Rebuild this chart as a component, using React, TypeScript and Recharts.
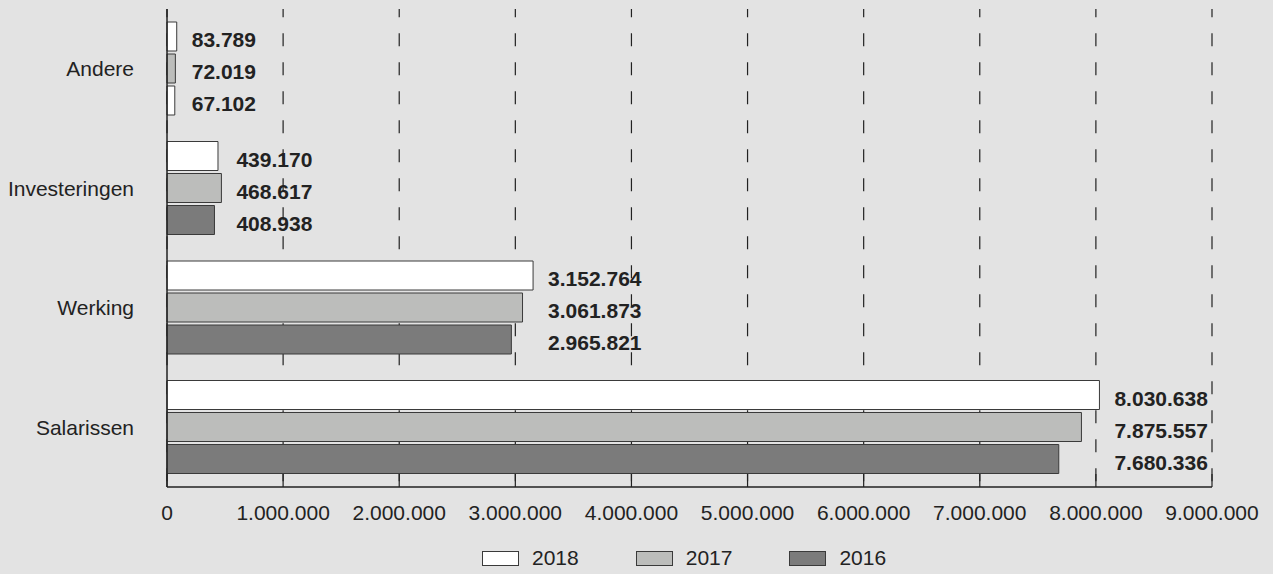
import React from "react";
import {
  BarChart,
  Bar,
  Cell,
  CartesianGrid,
  LabelList,
  Legend,
  XAxis,
  YAxis,
} from "recharts";

const categories = ["Andere", "Investeringen", "Werking", "Salarissen"];
const values2018 = [83789, 439170, 3152764, 8030638];
const values2017 = [72019, 468617, 3061873, 7875557];
const values2016 = [67102, 408938, 2965821, 7680336];
const xTicks = [0, 1000000, 2000000, 3000000, 4000000, 5000000, 6000000, 7000000, 8000000, 9000000];

const series = [
  { key: "y2018", name: "2018", fill: "#ffffff" },
  { key: "y2017", name: "2017", fill: "#bcbdbb" },
  { key: "y2016", name: "2016", fill: "#7b7b7b" },
];

const data = categories.map((c, i) => ({
  category: c,
  y2018: values2018[i],
  y2017: values2017[i],
  y2016: values2016[i],
}));

const groupMax = data.map((d) => Math.max(d.y2018, d.y2017, d.y2016));

const fmt = (v: number) => String(v).replace(/\B(?=(\d{3})+(?!\d))/g, ".");

const FONT = "'Liberation Sans', Arial, Helvetica, sans-serif";

const ValueLabel = (props: any) => {
  const { x, y, width, height, value, index } = props;
  // all labels of a group line up right of the longest bar
  const end = x + (width * groupMax[index]) / value;
  return (
    <text
      x={end + 15}
      y={y + height / 2 + 10.5}
      fontSize={21}
      fontWeight="bold"
      fill="#222"
      fontFamily={FONT}
    >
      {fmt(value)}
    </text>
  );
};

const XTick = (props: any) => {
  const { x, y, payload } = props;
  return (
    <g>
      <line x1={x} x2={x} y1={y} y2={y - 13} stroke="#222" strokeWidth={1.2} />
      <text x={x} y={y + 33} textAnchor="middle" fontSize={21} fill="#222" fontFamily={FONT}>
        {fmt(payload.value)}
      </text>
    </g>
  );
};

const LegendContent = () => (
  <div
    style={{
      height: 40,
      display: "flex",
      alignItems: "center",
      paddingTop: 8,
      boxSizing: "border-box",
      fontFamily: FONT,
      fontSize: 21,
      color: "#222",
    }}
  >
    {series.map((s) => (
      <div key={s.key} style={{ display: "flex", alignItems: "center", marginRight: 57 }}>
        <span
          style={{
            width: 35,
            height: 13,
            background: s.fill,
            border: "1px solid #3a3a3a",
            marginRight: 13,
            display: "inline-block",
          }}
        />
        <span>{s.name}</span>
      </div>
    ))}
  </div>
);

export default function App() {
  return (
    <div
      style={{
        position: "absolute",
        left: 0,
        top: 0,
        width: 1273,
        height: 574,
        background: "#e3e3e3",
      }}
    >
      <BarChart
        width={1273}
        height={574}
        data={data}
        layout="vertical"
        margin={{ top: 9, right: 61, bottom: 0, left: 0 }}
        barCategoryGap={13}
        barGap={3}
      >
        <CartesianGrid
          horizontal={false}
          stroke="#222"
          strokeWidth={1.2}
          strokeDasharray="13 16"
          strokeDashoffset={4.7}
        />
        <XAxis
          type="number"
          domain={[0, 9000000]}
          ticks={xTicks}
          tick={<XTick />}
          tickLine={false}
          tickSize={0}
          tickMargin={0}
          height={47}
          axisLine={{ stroke: "#222", strokeWidth: 1.5 }}
          interval={0}
        />
        <YAxis
          type="category"
          dataKey="category"
          width={167}
          tickLine={false}
          tickSize={0}
          tickMargin={33}
          axisLine={{ stroke: "#222", strokeWidth: 1.5 }}
          tick={{ fontSize: 21, fill: "#222", fontFamily: FONT }}
        />
        <Legend
          verticalAlign="bottom"
          content={<LegendContent />}
          wrapperStyle={{ left: 482, width: 500 }}
        />
        {series.map((s) => (
          <Bar
            key={s.key}
            dataKey={s.key}
            name={s.name}
            fill={s.fill}
            stroke="#3a3a3a"
            strokeWidth={1}
            isAnimationActive={false}
          >
            {s.key === "y2016" &&
              categories.map((c) => (
                <Cell key={c} fill={c === "Andere" ? "#ffffff" : s.fill} />
              ))}
            <LabelList dataKey={s.key} content={<ValueLabel />} />
          </Bar>
        ))}
      </BarChart>
    </div>
  );
}
